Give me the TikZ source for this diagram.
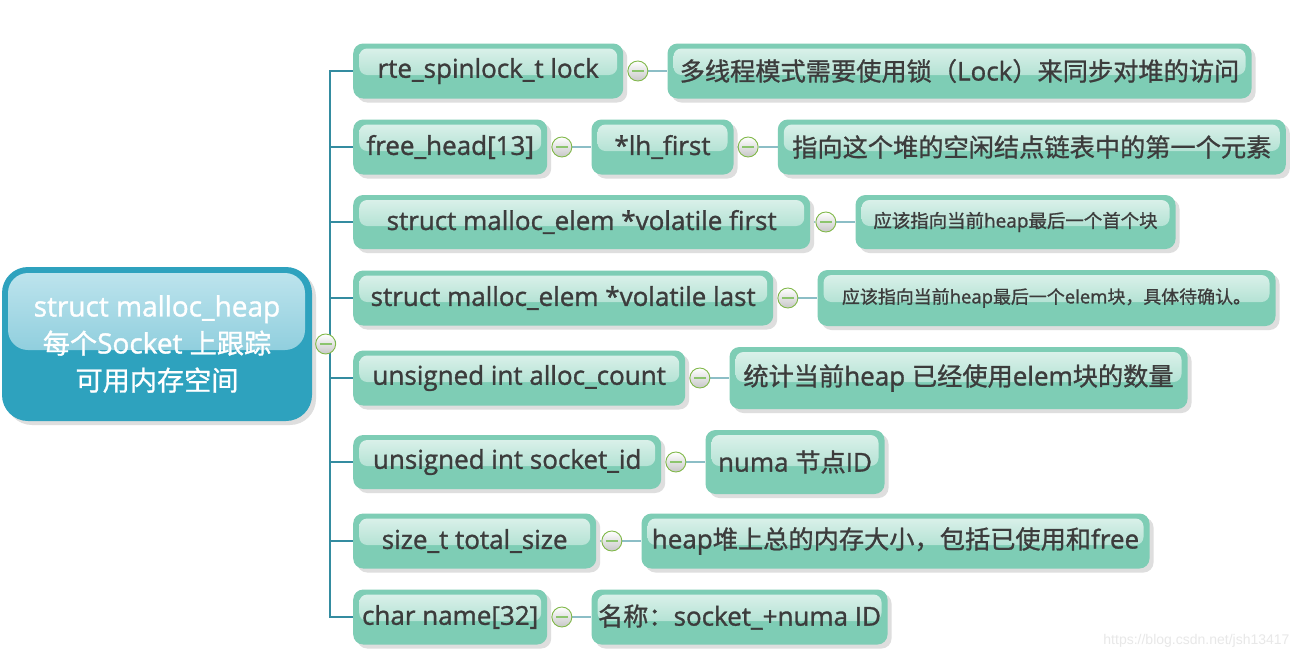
\documentclass[tikz,border=0pt]{standalone}
\usepackage{fontspec}
\setmainfont{Open Sans}[UprightFeatures={FakeBold=1.2}]
\newfontfamily\cjk{Noto Sans CJK SC}[UprightFeatures={FakeBold=1},Scale=0.97]
\newfontfamily\markfont{Liberation Sans}
\newcommand{\zh}[1]{{\cjk #1}}
\usetikzlibrary{positioning,shadows,backgrounds}

\definecolor{boxgreen}{RGB}{126,205,181}
\definecolor{glosstop}{RGB}{224,243,237}
\definecolor{glossbot}{RGB}{148,214,194}
\definecolor{rootblue}{RGB}{46,162,190}
\definecolor{roottop}{RGB}{192,229,238}
\definecolor{rootbot}{RGB}{104,188,208}
\definecolor{inktext}{RGB}{60,60,60}
\definecolor{spineteal}{RGB}{52,140,160}
\definecolor{linkteal}{RGB}{140,190,198}
\definecolor{ringgreen}{RGB}{128,184,72}
\definecolor{minusgreen}{RGB}{140,196,110}

\begin{document}
\begin{tikzpicture}[
  x=1pt,y=-1pt,
  node distance=5pt,
  field/.style={rounded corners=10pt,fill=boxgreen,minimum height=55pt,inner sep=0pt,
    text=inktext,font=\fontsize{26}{30}\selectfont,
    drop shadow={opacity=1,fill=black!13,shadow xshift=4pt,shadow yshift=-4pt},
    path picture={\fill[top color=glosstop,bottom color=glossbot,rounded corners=8pt]
      ([xshift=6pt,yshift=-5pt]path picture bounding box.north west) rectangle
      ([xshift=-6pt,yshift=-4pt]path picture bounding box.east);}},
  desc/.style={field,right=19pt of #1},
  rootbox/.style={rounded corners=26pt,fill=rootblue,minimum width=310pt,minimum height=154pt,
    inner sep=0pt,text=white,align=center,font=\fontsize{28}{37}\selectfont,
    drop shadow={opacity=1,fill=black!13,shadow xshift=4pt,shadow yshift=-4pt},
    path picture={\fill[top color=roottop,bottom color=rootbot,rounded corners=20pt]
      ([xshift=6pt,yshift=-6pt]path picture bounding box.north west) rectangle
      ([xshift=-7pt,yshift=-6pt]path picture bounding box.east);}},
  toggle/.style={circle,minimum size=20pt,inner sep=0pt,draw=ringgreen,line width=0.9pt,
    top color=white,bottom color=black!22,
    path picture={\draw[minusgreen,line width=2.2pt]
      ([xshift=-6pt]path picture bounding box.center) --
      ([xshift=6pt]path picture bounding box.center);}},
  link/.style={linkteal,line width=2pt},
  spine/.style={spineteal,line width=2pt}
]
  \useasboundingbox (0,0) rectangle (1302,662);

  % root
  \node[rootbox] (heap) at (157,344) {struct malloc\_heap\\
    \zh{每个}Socket \zh{上跟踪}\\ \zh{可用内存空间}};
  \node[toggle,right=3pt of heap] (c-heap) {};
  \coordinate (spine) at (330,343);

  % fields
  \node[field,minimum width=270pt,anchor=west] (lock) at (353,71) {rte\_spinlock\_t lock};
  \node[field,minimum width=194pt,anchor=west] (freehead) at (353,147) {free\_head[13]};
  \node[field,minimum width=457pt,minimum height=54pt,anchor=west] (first) at (353,222) {struct malloc\_elem *volatile first};
  \node[field,minimum width=420pt,anchor=west] (last) at (353,298) {struct malloc\_elem *volatile last};
  \node[field,minimum width=332pt,anchor=west] (count) at (353,378) {unsigned int alloc\_count};
  \node[field,minimum width=308pt,minimum height=54pt,anchor=west] (sockid) at (353,462) {unsigned int socket\_id};
  \node[field,minimum width=243pt,anchor=west] (total) at (353,541) {size\_t total\_size};
  \node[field,minimum width=194pt,anchor=west] (name) at (353,617) {char name[32]};

  % toggles
  \node[toggle,right=4pt of lock] (c-lock) {};
  \node[toggle,right=4pt of freehead] (c-freehead) {};
  \node[toggle,right=of first] (c-first) {};
  \node[toggle,right=4pt of last] (c-last) {};
  \node[toggle,right=4pt of count] (c-count) {};
  \node[toggle,right=4pt of sockid] (c-sockid) {};
  \node[toggle,right=of total] (c-total) {};
  \node[toggle,right=4pt of name] (c-name) {};

  % notes
  \node[desc=c-lock,minimum width=584pt] (lockdesc)
    {\zh{多线程模式需要使用锁（}Lock\zh{）来同步对堆的访问}};
  \node[desc=c-freehead,minimum width=142pt] (lhfirst) {*lh\_first};
  \node[toggle,right=4pt of lhfirst] (c-lhfirst) {};
  \node[desc=c-lhfirst,minimum width=508pt] (lhdesc)
    {\zh{指向这个堆的空闲结点链表中的第一个元素}};
  \node[desc=c-first,minimum width=320pt,minimum height=54pt,font=\fontsize{19}{23}\selectfont] (firstdesc)
    {\zh{应该指向当前}heap\zh{最后一个首个块}};
  \node[desc=c-last,minimum width=458pt,minimum height=56pt,font=\fontsize{18.5}{22}\selectfont] (lastdesc)
    {\zh{应该指向当前}heap\zh{最后一个}elem\zh{块，具体待确认。}};
  \node[desc=c-count,minimum width=458pt,minimum height=62pt] (countdesc)
    {\zh{统计当前}heap \zh{已经使用}elem\zh{块的数量}};
  \node[desc=c-sockid,minimum width=179pt,minimum height=64pt] (sockdesc) {numa \zh{节点}ID};
  \node[desc=c-total,minimum width=508pt] (totaldesc)
    {heap\zh{堆上总的内存大小，包括已使用和}free};
  \node[desc=c-name,minimum width=296pt] (namedesc) {\zh{名称：}socket\_+numa ID};

  \node[text=black!9,font=\markfont\fontsize{14}{16}\selectfont,anchor=east] (mark)
    at (1293,641) {https://blog.csdn.net/jsh13417};

  % connectors
  \begin{scope}[on background layer]
    \fill[white] (0,0) rectangle (1302,662);
    \draw[spine] (heap) -- (c-heap) -- (spine);
    \foreach \f in {lock,freehead,first,last,count,sockid,total,name}
      \draw[spine] (spine) |- (\f);
    \foreach \f/\d in {lock/lockdesc,freehead/lhfirst,lhfirst/lhdesc,first/firstdesc,
        last/lastdesc,count/countdesc,sockid/sockdesc,total/totaldesc,name/namedesc}
      \draw[link] (\f) -- (c-\f) -- (\d);
  \end{scope}
\end{tikzpicture}
\end{document}
